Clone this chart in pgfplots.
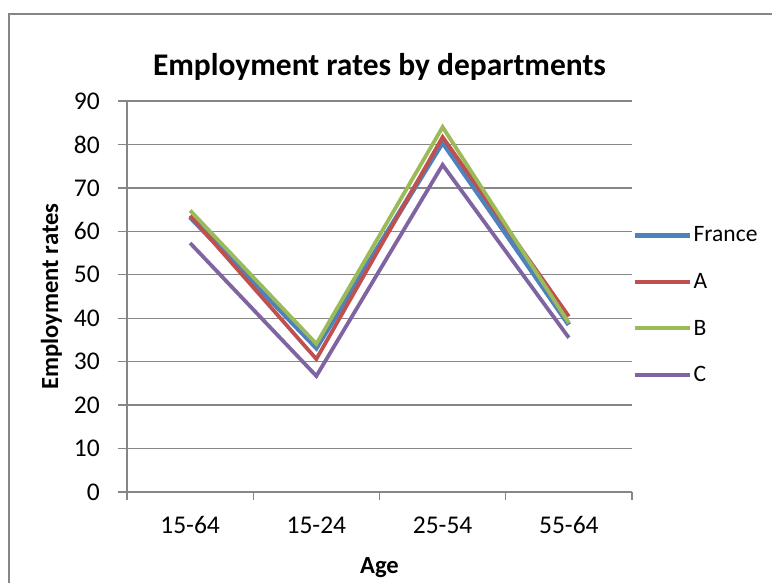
\documentclass[border=0pt]{standalone}
\usepackage{fontspec}
\setmainfont{Carlito}
\usepackage{pgfplots}
\pgfplotsset{compat=1.18}

\definecolor{xlblue}{HTML}{4F81BD}
\definecolor{xlred}{HTML}{C0504D}
\definecolor{xlgreen}{HTML}{9BBB59}
\definecolor{xlpurple}{HTML}{8064A2}
\definecolor{xlgrid}{HTML}{868686}

\begin{document}
\begin{tikzpicture}
\useasboundingbox (0pt,0pt) rectangle (772pt,583pt);
% chart area border (cut off at right and bottom)
\draw[xlgrid, line width=1.3pt] (9pt,0pt) -- (9pt,569pt) -- (772pt,569pt);
\begin{axis}[
    at={(127pt,91pt)}, anchor=south west,
    scale only axis,
    width=505pt, height=391pt,
    xmin=-0.5, xmax=3.5,
    ymin=0, ymax=90,
    ytick={0,10,...,90},
    xtick={0,1,2,3},
    xticklabels={15-64,15-24,25-54,55-64},
    minor xtick={-0.5,0.5,1.5,2.5,3.5},
    major x tick style={draw=none},
    tick align=outside,
    major tick length=9pt,
    minor tick length=8pt,
    tick style={xlgrid, line width=1.3pt},
    axis x line*=bottom,
    axis y line*=left,
    axis line style={xlgrid, line width=1.3pt, -},
    ymajorgrids,
    grid style={xlgrid, line width=1.3pt},
    /pgf/number format/assume math mode=true,
    ticklabel style={font=\fontsize{25.5}{30}\selectfont},
    yticklabel style={inner sep=0pt, xshift=-18pt},
    xticklabel style={anchor=base, yshift=-33pt},
    title={Employment rates by departments},
    xlabel={Age},
    ylabel={Employment rates},
    every axis title/.style={at={(axis description cs:0.5,1.064)}, anchor=base,
        font=\bfseries\fontsize{31.5}{36}\selectfont},
    every axis x label/.style={at={(axis description cs:0.5,-0.2097)}, anchor=base,
        font=\bfseries\fontsize{24.6}{29}\selectfont},
    every axis y label/.style={at={(axis description cs:-0.1366,0.5)}, rotate=90, anchor=base,
        font=\bfseries\fontsize{24.6}{29}\selectfont},
    legend style={at={(axis description cs:1.0,0.478)}, anchor=west,
        draw=none, fill=none, inner sep=0pt, row sep=27pt,
        font=\fontsize{23.5}{28}\selectfont,
        nodes={inner sep=1.5pt}},
    legend cell align=left,
    legend image code/.code={\draw[#1] (0pt,0pt) -- (55pt,0pt);},
]
\addplot[xlblue, line width=5pt] coordinates {(0,63.3) (1,33.2) (2,80.5) (3,38.5)};
\addlegendentry{France}
\addplot[xlred, line width=3.8pt] coordinates {(0,63.6) (1,30.6) (2,81.7) (3,40.4)};
\addlegendentry{A}
\addplot[xlgreen, line width=3.8pt] coordinates {(0,64.8) (1,34.1) (2,84) (3,38.9)};
\addlegendentry{B}
\addplot[xlpurple, line width=3.8pt] coordinates {(0,57.3) (1,26.7) (2,75.3) (3,35.5)};
\addlegendentry{C}
\end{axis}
\end{tikzpicture}
\end{document}
